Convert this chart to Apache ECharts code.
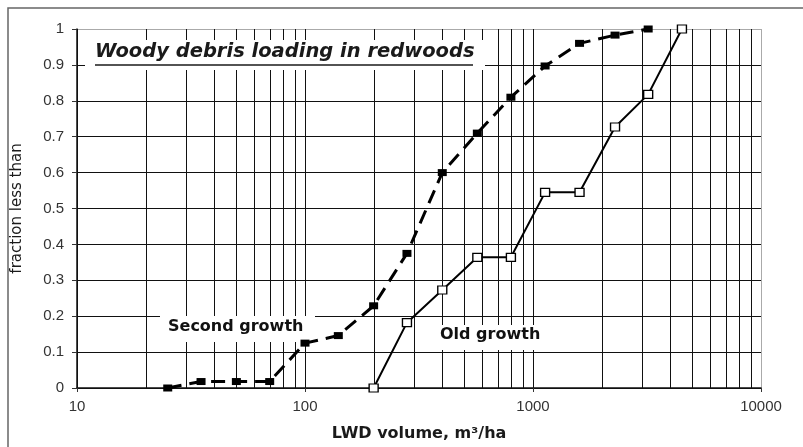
<!DOCTYPE html>
<html>
<head>
<meta charset="utf-8">
<script src="https://cdn.jsdelivr.net/npm/echarts@6/dist/echarts.min.js"></script>
<style>
  html, body { margin: 0; padding: 0; background: #fff; }
  #chart { width: 803px; height: 447px; }
</style>
</head>
<body>
<div id="chart"></div>
<script>
// LWD volume (m3/ha) and cumulative fraction for each stand type
const secondGrowthVolume = [25, 35, 50, 70, 100, 140, 200, 280, 400, 570, 800, 1130, 1600, 2290, 3200];
const secondGrowthFraction = [0, 0.018, 0.018, 0.018, 0.125, 0.146, 0.229, 0.375, 0.6, 0.71, 0.81, 0.897, 0.96, 0.983, 1];

const oldGrowthVolume = [200, 280, 400, 570, 800, 1130, 1600, 2290, 3200, 4500];
const oldGrowthFraction = [0, 0.182, 0.273, 0.364, 0.364, 0.545, 0.545, 0.727, 0.818, 1];

// Log-scale minor gridline positions (2..9 within each decade)
const minorGridValues = [20, 30, 40, 50, 60, 70, 80, 90,
                         200, 300, 400, 500, 600, 700, 800, 900,
                         2000, 3000, 4000, 5000, 6000, 7000, 8000, 9000];

const xTickLabels = ['10', '100', '1000', '10000'];

const chart = echarts.init(document.getElementById('chart'));

const pairs = (xs, ys) => xs.map((x, i) => [x, ys[i]]);

const option = {
  animation: false,
  backgroundColor: '#fff',
  grid: { left: 77, right: 42, top: 29, bottom: 46, containLabel: false },
  xAxis: {
    type: 'log',
    logBase: 10,
    min: 10,
    max: 10000,
    name: 'LWD volume, m\u00b3/ha',
    nameLocation: 'middle',
    nameGap: 38,
    nameTextStyle: { fontFamily: 'DejaVu Sans', fontWeight: 'bold', fontSize: 16, color: '#1a1a1a' },
    axisLine: { show: true, lineStyle: { color: '#111', width: 1.5 } },
    axisTick: { show: true, length: 4, lineStyle: { color: '#333' } },
    axisLabel: {
      margin: 11,
      fontFamily: 'Liberation Sans',
      fontSize: 15,
      color: '#333',
      formatter: v => {
        const s = String(Math.round(v));
        return xTickLabels.indexOf(s) >= 0 ? s : '';
      }
    },
    splitLine: { show: true, lineStyle: { color: ['#111', '#111', '#111', '#aaa'], width: 1 } }
  },
  yAxis: {
    type: 'value',
    min: 0,
    max: 1,
    interval: 0.1,
    name: 'fraction less than',
    nameLocation: 'middle',
    nameGap: 52,
    nameTextStyle: { fontFamily: 'DejaVu Sans', fontSize: 15, color: '#1a1a1a' },
    axisLine: { show: true, lineStyle: { color: '#111', width: 1.5 } },
    axisTick: { show: true, length: 5, lineStyle: { color: '#333' } },
    axisLabel: {
      margin: 13,
      fontFamily: 'Liberation Sans',
      fontSize: 15,
      color: '#333',
      formatter: v => String(Math.round(v * 10) / 10)
    },
    splitLine: {
      show: true,
      lineStyle: {
        color: ['#111', '#111', '#111', '#111', '#111', '#111', '#111', '#111', '#111', '#111', '#aaa'],
        width: 1
      }
    }
  },
  graphic: [
    // outer chart frame
    {
      type: 'rect', z: 0, silent: true,
      shape: { x: 8, y: 8, width: 820, height: 460 },
      style: { fill: null, stroke: '#666', lineWidth: 1.5 }
    },
    // chart title on a white panel
    {
      type: 'rect', z: 50, silent: true,
      shape: { x: 85, y: 40, width: 400, height: 30 },
      style: { fill: '#fff' }
    },
    {
      type: 'text', z: 51, silent: true,
      left: 95, top: 42,
      style: {
        text: 'Woody debris loading in redwoods',
        font: 'italic bold 19.5px "DejaVu Sans"',
        fill: '#1a1a1a'
      }
    },
    {
      type: 'line', z: 51, silent: true,
      shape: { x1: 95, y1: 65, x2: 473, y2: 65 },
      style: { stroke: '#1a1a1a', lineWidth: 1.5 }
    },
    // series labels on white panels
    {
      type: 'rect', z: 50, silent: true,
      shape: { x: 160, y: 316, width: 155, height: 26 },
      style: { fill: '#fff' }
    },
    {
      type: 'text', z: 51, silent: true,
      left: 168, top: 319,
      style: { text: 'Second growth', font: 'bold 16px "DejaVu Sans"', fill: '#111' }
    },
    {
      type: 'rect', z: 50, silent: true,
      shape: { x: 433, y: 325, width: 115, height: 25 },
      style: { fill: '#fff' }
    },
    {
      type: 'text', z: 51, silent: true,
      left: 440, top: 327,
      style: { text: 'Old growth', font: 'bold 16px "DejaVu Sans"', fill: '#111' }
    }
  ],
  series: [
    {
      // minor log gridlines, snapped to the pixel grid
      type: 'custom',
      z: 1,
      silent: true,
      data: minorGridValues.map(v => [v]),
      encode: { x: 0 },
      renderItem: (params, api) => {
        const v = api.value(0);
        const p0 = api.coord([v, 0]);
        const p1 = api.coord([v, 1]);
        const x = Math.round(p0[0]) + 0.5;
        return {
          type: 'line',
          shape: { x1: x, y1: Math.round(p0[1]), x2: x, y2: Math.round(p1[1]) },
          style: { stroke: '#111', lineWidth: 1 }
        };
      }
    },
    {
      name: 'Second growth',
      type: 'line',
      z: 60,
      data: pairs(secondGrowthVolume, secondGrowthFraction),
      symbol: 'rect',
      symbolSize: [9, 7],
      showAllSymbol: true,
      lineStyle: { color: '#000', width: 3, type: [14, 8] },
      itemStyle: { color: '#000', borderColor: '#000', borderWidth: 0 }
    },
    {
      name: 'Old growth',
      type: 'line',
      z: 60,
      data: pairs(oldGrowthVolume, oldGrowthFraction),
      symbol: 'rect',
      symbolSize: [9, 8],
      showAllSymbol: true,
      lineStyle: { color: '#000', width: 2 },
      itemStyle: { color: '#fff', borderColor: '#000', borderWidth: 1.3 }
    }
  ]
};

chart.setOption(option);
</script>
</body>
</html>
